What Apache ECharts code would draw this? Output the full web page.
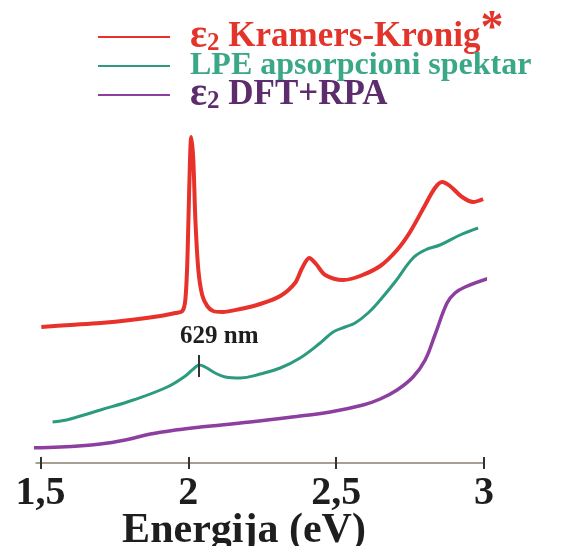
<!DOCTYPE html>
<html>
<head>
<meta charset="utf-8">
<script src="https://cdn.jsdelivr.net/npm/echarts@6/dist/echarts.min.js"></script>
<style>
  html, body { margin: 0; padding: 0; background: #fff; }
  #chart { width: 583px; height: 546px; }
</style>
</head>
<body>
<div id="chart"></div>
<script>
// energy (eV) / intensity (arb. units)
const kkEnergy = [1.503, 1.601, 1.703, 1.804, 1.905, 1.956, 1.980, 1.990, 1.997, 2.003, 2.010, 2.017, 2.024, 2.034, 2.047, 2.064, 2.084, 2.115, 2.176, 2.243, 2.311, 2.361, 2.385, 2.409, 2.432, 2.463, 2.524, 2.581, 2.649, 2.706, 2.750, 2.801, 2.834, 2.858, 2.885, 2.926, 2.963, 2.997];
const kkValue  = [13.6, 13.8, 14.0, 14.3, 14.7, 15.0, 15.2, 16.3, 20.3, 27.3, 32.6, 30.3, 24.3, 19.3, 16.8, 15.7, 15.2, 15.1, 15.4, 15.9, 16.7, 18.0, 19.5, 20.5, 19.9, 18.8, 18.3, 18.7, 19.7, 21.3, 23.1, 25.8, 27.5, 28.1, 27.7, 26.6, 26.1, 26.4];

const lpeEnergy = [1.541, 1.568, 1.601, 1.703, 1.814, 1.929, 1.990, 2.017, 2.037, 2.057, 2.091, 2.125, 2.176, 2.243, 2.311, 2.378, 2.446, 2.490, 2.530, 2.564, 2.608, 2.649, 2.699, 2.760, 2.801, 2.851, 2.919, 2.980];
const lpeValue  = [4.1, 4.2, 4.4, 5.3, 6.3, 7.6, 8.7, 9.4, 9.8, 9.6, 9.0, 8.6, 8.5, 8.9, 9.5, 10.5, 12.0, 13.1, 13.6, 14.0, 15.0, 16.3, 18.1, 20.5, 21.3, 21.8, 22.8, 23.5];

const dftEnergy = [1.432, 1.568, 1.703, 1.787, 1.872, 1.956, 2.041, 2.209, 2.378, 2.480, 2.591, 2.649, 2.706, 2.760, 2.801, 2.834, 2.875, 2.902, 2.936, 3.020];
const dftValue  = [1.5, 1.6, 1.9, 2.3, 2.9, 3.3, 3.6, 4.1, 4.7, 5.1, 5.8, 6.4, 7.3, 8.6, 10.3, 12.8, 16.0, 17.0, 17.6, 18.5];

const tickValues = [1.5, 2, 2.5, 3];
const markerEnergy = 2.037;
const markerSpan = [10.8, 8.6];

const names = ['ε2 Kramers-Kronig', 'LPE apsorpcioni spektar', 'ε2 DFT+RPA'];
const colors = ['#e8312b', '#2c9a7f', '#8c3f9f'];
const textColors = ['#e3342b', '#3aa787', '#5c2c6c'];

const zip = (xs, ys) => xs.map((x, i) => [x, ys[i]]);

const serif = '"Liberation Serif", "Times New Roman", serif';

const chart = echarts.init(document.getElementById('chart'));

const baseX = {
  type: 'value',
  min: 1.485,
  max: 3.0,
  position: 'bottom',
  splitLine: { show: false }
};

// one legend per row so each row can sit where it does in the figure
function legendRow(i, top, size) {
  return {
    orient: 'vertical',
    left: 93,
    top: top,
    icon: 'rect',
    itemWidth: 72,
    itemHeight: 2,
    selectedMode: false,
    data: [{ name: names[i], textStyle: { color: textColors[i] } }],
    formatter: function (name) {
      if (name === names[0]) return '{e|ε}{s|2} Kramers-Kronig{a|*}';
      if (name === names[2]) return '{e|ε}{s|2} DFT+RPA';
      return name;
    },
    textStyle: {
      fontFamily: serif,
      fontWeight: 'bold',
      fontSize: size,
      lineHeight: 30,
      padding: [0, 0, 0, 15],
      rich: {
        e: { fontFamily: serif, fontWeight: 'bold', fontSize: 40, lineHeight: 30 },
        s: { fontFamily: serif, fontWeight: 'bold', fontSize: 25, lineHeight: 30, padding: [14, 0, 0, 0] },
        a: { fontFamily: serif, fontWeight: 'bold', fontSize: 46, lineHeight: 30, padding: [0, 0, 14, 0] }
      }
    }
  };
}

chart.setOption({
  backgroundColor: '#ffffff',
  animation: false,
  grid: { left: 36, right: 99, top: 113, bottom: 83, outerBoundsMode: 'none', containLabel: false },
  legend: [legendRow(0, 2, 35), legendRow(1, 45, 32), legendRow(2, 70, 35)],
  xAxis: [
    Object.assign({}, baseX, {
      axisLine: { show: true, lineStyle: { color: '#8c7f70', width: 1.5 } },
      axisTick: { show: true, customValues: tickValues, length: 6, lineStyle: { color: '#333', width: 2 } },
      axisLabel: {
        customValues: tickValues,
        margin: 11,
        color: '#1e1e1e',
        fontFamily: serif,
        fontWeight: 'bold',
        fontSize: 40,
        formatter: v => String(v).replace('.', ',')
      },
      name: 'Energija (eV)',
      nameLocation: 'middle',
      nameGap: 47,
      nameMoveOverlap: false,
      nameTextStyle: {
        color: '#1e1e1e',
        fontFamily: serif,
        fontWeight: 'bold',
        fontSize: 42,
        padding: [0, 32, 0, 0]
      }
    }),
    Object.assign({}, baseX, {
      axisLine: { show: false },
      axisTick: { show: true, inside: true, customValues: tickValues, length: 6, lineStyle: { color: '#333', width: 2 } },
      axisLabel: { show: false }
    })
  ],
  yAxis: {
    type: 'value',
    min: 0,
    max: 35,
    show: false
  },
  series: [
    {
      name: names[0],
      type: 'line',
      data: zip(kkEnergy, kkValue),
      showSymbol: false,
      smooth: 0.3,
      clip: false,
      color: colors[0],
      lineStyle: { width: 4, color: colors[0] }
    },
    {
      name: names[1],
      type: 'line',
      data: zip(lpeEnergy, lpeValue),
      showSymbol: false,
      smooth: 0.4,
      clip: false,
      color: colors[1],
      lineStyle: { width: 3, color: colors[1] },
      markLine: {
        silent: true,
        symbol: 'none',
        lineStyle: { type: 'solid', color: '#333', width: 2 },
        label: {
          show: true,
          position: 'end',
          formatter: '629 nm',
          color: '#1e1e1e',
          fontFamily: serif,
          fontWeight: 'bold',
          fontSize: 25,
          distance: 6,
          offset: [20, 0]
        },
        data: [[
          { coord: [markerEnergy, markerSpan[1]] },
          { coord: [markerEnergy, markerSpan[0]] }
        ]]
      }
    },
    {
      name: names[2],
      type: 'line',
      data: zip(dftEnergy, dftValue),
      showSymbol: false,
      smooth: 0.4,
      clip: false,
      color: colors[2],
      lineStyle: { width: 3.5, color: colors[2] }
    }
  ]
});
</script>
</body>
</html>
